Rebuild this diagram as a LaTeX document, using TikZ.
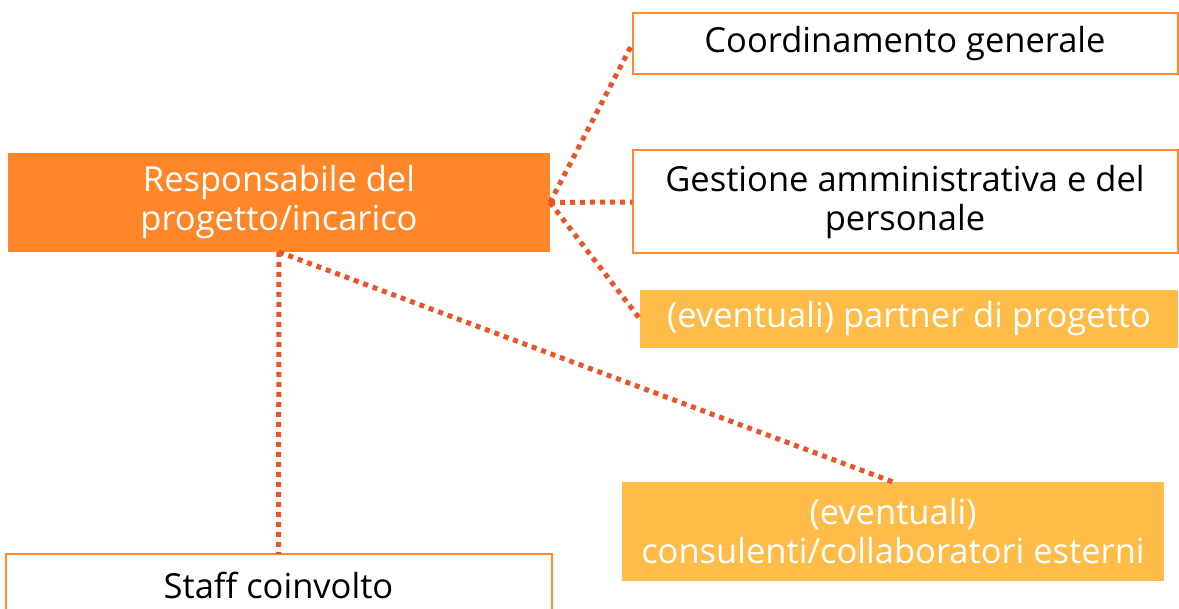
\documentclass[tikz,border=0pt]{standalone}
\usepackage{fontspec}
\setmainfont{Open Sans}
\definecolor{darkor}{HTML}{FF8629}
\definecolor{boxor}{HTML}{FF8A30}
\definecolor{yel}{HTML}{FFBC48}
\definecolor{dotc}{HTML}{E9542A}
\begin{document}
\begin{tikzpicture}[x=1pt,y=-1pt,
  every node/.style={inner sep=0pt, outer sep=0pt, align=center, font=\fontsize{34.5}{39}\selectfont},
  solidbox/.style={fill=darkor, text=white, draw=none},
  whitebox/.style={fill=white, draw=boxor, line width=2pt, text=black},
  yelbox/.style={fill=yel, text=white, draw=none},
  link/.style={draw=dotc, line width=5pt, dash pattern=on 5pt off 5pt}]
\clip (0,0) rectangle (1179,609);
\fill[white] (0,0) rectangle (1179,609);
\node[solidbox, minimum width=542pt, minimum height=99pt] (resp) at (279,202.5) {Responsabile del\\progetto/incarico};
\node[whitebox, minimum width=545pt, minimum height=61pt] (coord) at (905,43.5) {Coordinamento generale};
\node[whitebox, minimum width=545pt, minimum height=103pt] (gest) at (905,202) {Gestione amministrativa e del\\personale};
\node[yelbox, minimum width=538pt, minimum height=58pt] (partner) at (909,319) {(eventuali) partner di progetto};
\node[yelbox, minimum width=542pt, minimum height=99pt] (cons) at (893,531.5) {(eventuali)\\consulenti/collaboratori esterni};
\node[whitebox, minimum width=546pt, minimum height=70pt, anchor=north] (staff) at (278.5,554) {};
\node[text=black] at (278.5,585) {Staff coinvolto};
\draw[link] (resp.east) -- (coord.west);
\draw[link] (resp.east) -- (gest.west);
\draw[link] (resp.east) -- (partner.west);
\draw[link] (resp.south) -- (cons.north);
\draw[link] (resp.south) -- (staff.north);
\end{tikzpicture}
\end{document}
